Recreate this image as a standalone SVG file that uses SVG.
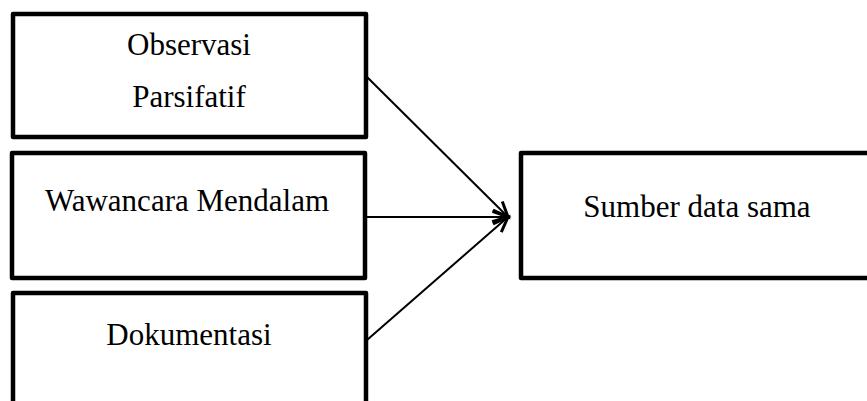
<svg xmlns="http://www.w3.org/2000/svg" width="867" height="401" viewBox="0 0 867 401">
<style>
.box{fill:#fff;stroke:#000;stroke-width:4.5;stroke-linejoin:round}
.lbl{font-family:"Liberation Serif","Times New Roman",serif;font-size:31px;fill:#000;text-anchor:middle}
.con{stroke:#000;stroke-width:2;fill:none}
</style>
<defs>
<marker id="arr" markerUnits="userSpaceOnUse" markerWidth="24" markerHeight="24" refX="18" refY="12" orient="auto">
<path d="M3,5 L18,12 L3,19" fill="none" stroke="#000" stroke-width="3"/>
</marker>
</defs>
<rect width="867" height="401" fill="#fff"/>
<g id="n1">
<rect class="box" x="13" y="14" width="353" height="123"/>
<text class="lbl" x="189" y="55">Observasi</text>
<text class="lbl" x="189" y="107">Parsifatif</text>
</g>
<g id="n2">
<rect class="box" x="12" y="153" width="353" height="125"/>
<text class="lbl" x="187" y="211">Wawancara Mendalam</text>
</g>
<g id="n3">
<rect class="box" x="13" y="293" width="353" height="130"/>
<text class="lbl" x="189" y="345">Dokumentasi</text>
</g>
<g id="n4">
<rect class="box" x="521" y="153" width="360" height="125"/>
<text class="lbl" x="697" y="217">Sumber data sama</text>
</g>
<g id="connectors">
<line class="con" x1="367" y1="77" x2="508" y2="217" marker-end="url(#arr)"/>
<line class="con" x1="366" y1="217" x2="508" y2="217" marker-end="url(#arr)"/>
<line class="con" x1="367" y1="340" x2="508" y2="217" marker-end="url(#arr)"/>
</g>
</svg>
